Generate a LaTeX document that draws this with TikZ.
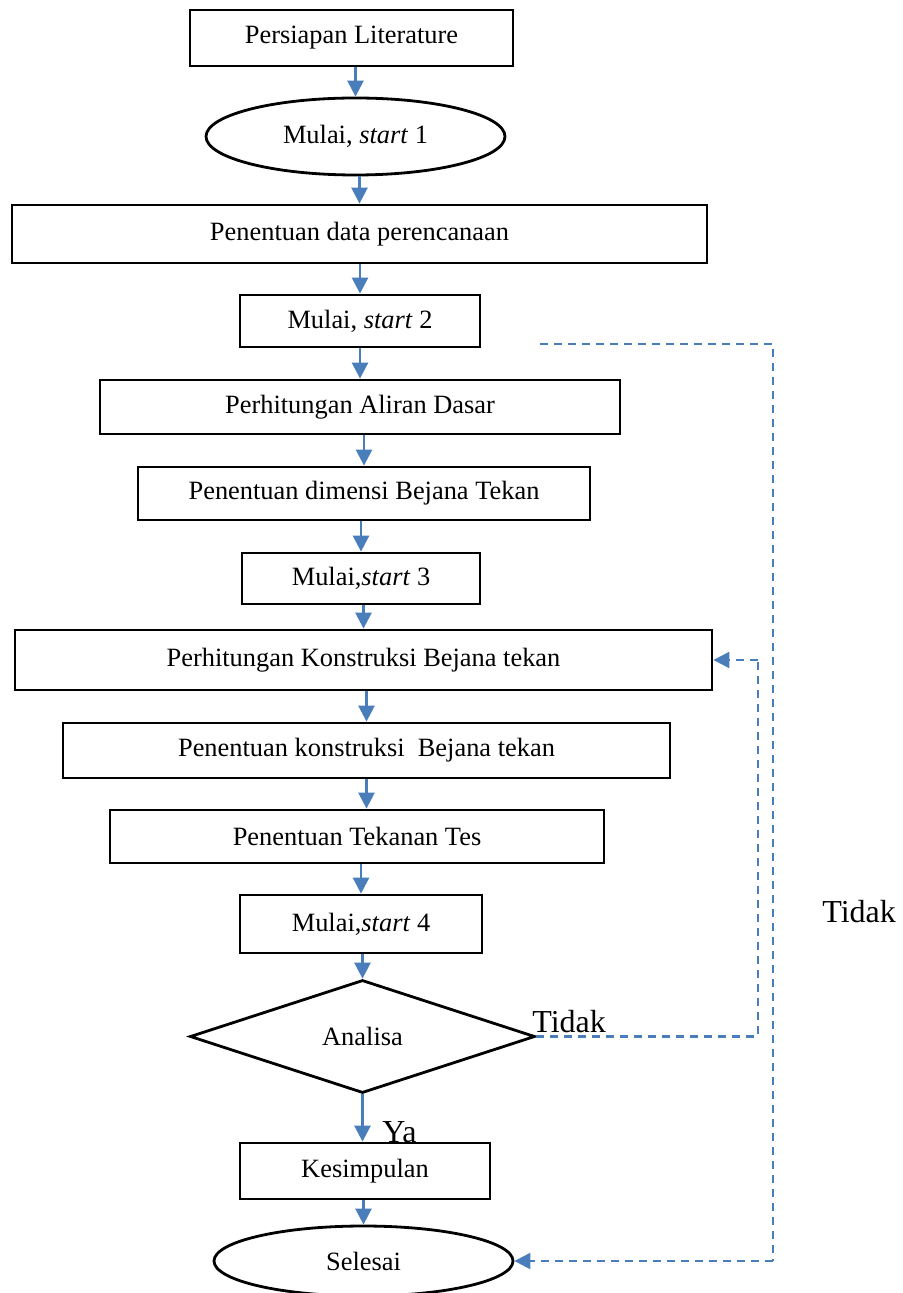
\documentclass[tikz,border=0pt]{standalone}
\usepackage{fontspec}
\setmainfont{Liberation Serif}
\usepackage{xcolor}
\usepackage{tikz}
\usetikzlibrary{shapes.geometric,arrows.meta}
\definecolor{flowblue}{HTML}{4A7EBB}

\begin{document}
\begin{tikzpicture}[
  x=0.5pt, y=-0.5pt,
  every node/.style={font=\fontsize{13.2}{15}\selectfont, inner sep=0pt},
  squarednode/.style={rectangle, draw=black, fill=white, line width=1.4pt},
  roundnode/.style={ellipse, draw=black, fill=white, line width=1.4pt},
  decisionnode/.style={diamond, aspect=3, draw=black, fill=white, line width=1.4pt},
  flowarrow/.style={draw=flowblue, line width=1.3pt, -{Triangle[length=8pt,width=8pt]}},  % solid blue arrows
  backline/.style={draw=flowblue, line width=1.2pt, dash pattern=on 4pt off 3pt},       % dashed return lines
  sidelabel/.style={font=\fontsize{16}{18}\selectfont, anchor=base west}
]
  \useasboundingbox (0,0) rectangle (902,1293);

  \node[squarednode, minimum width=161.5pt, minimum height=28pt] (lit) at (351.5,38) {Persiapan Literature};
  \node[roundnode, minimum width=149.5pt, minimum height=38.5pt] (start1) at (355.5,136.5) {Mulai, \textit{start} 1};
  \node[squarednode, minimum width=347.5pt, minimum height=29pt] (plan) at (359.5,234) {Penentuan data perencanaan};
  \node[squarednode, minimum width=120pt, minimum height=26pt] (start2) at (360,321) {Mulai, \textit{start} 2};
  \node[squarednode, minimum width=260pt, minimum height=27pt] (aliran) at (360,407) {Perhitungan Aliran Dasar};
  \node[squarednode, minimum width=226pt, minimum height=26.5pt] (dimensi) at (364,493.5) {Penentuan dimensi Bejana Tekan};
  \node[squarednode, minimum width=119pt, minimum height=25.5pt] (start3) at (361,578.5) {Mulai,\textit{start} 3};
  \node[squarednode, minimum width=348.5pt, minimum height=30pt] (hitkonst) at (363.5,660) {Perhitungan Konstruksi Bejana tekan};
  \node[squarednode, minimum width=303.5pt, minimum height=27.5pt] (tentkonst) at (366.5,750.5) {Penentuan konstruksi \ Bejana tekan};
  \node[squarednode, minimum width=247pt, minimum height=26.5pt] (tes) at (357,836.5) {Penentuan Tekanan Tes};
  \node[squarednode, minimum width=121pt, minimum height=29pt] (start4) at (361,924) {Mulai,\textit{start} 4};
  \node[decisionnode, minimum width=172.5pt, minimum height=56.5pt] (analisa) at (362.5,1036.5) {Analisa};
  \node[squarednode, minimum width=125pt, minimum height=28pt] (kesimpulan) at (365,1171) {Kesimpulan};
  \node[roundnode, minimum width=149.5pt, minimum height=35pt] (selesai) at (363.5,1261) {Selesai};

  \draw[flowarrow] (lit.south -| start1) -- (start1.north);
  \draw[flowarrow] (start1.south -| plan) -- (plan.north);
  \draw[flowarrow] (plan.south -| start2) -- (start2.north);
  \draw[flowarrow] (start2.south -| aliran) -- (aliran.north);
  \draw[flowarrow] (aliran.south -| dimensi) -- (dimensi.north);
  \draw[flowarrow] (dimensi.south -| start3) -- (start3.north);
  \draw[flowarrow] (start3.south -| hitkonst) -- (hitkonst.north);
  \draw[flowarrow] (hitkonst.south -| tentkonst) -- (tentkonst.north);
  \draw[flowarrow] (tentkonst.south) -- (tentkonst.south |- tes.north);
  \draw[flowarrow] (tes.south -| start4) -- (start4.north);
  \draw[flowarrow] (start4.south -| analisa) -- (analisa.north);
  \draw[flowarrow] (analisa.south) -- (analisa.south |- kesimpulan.north);
  \draw[flowarrow] (kesimpulan.south -| selesai) -- (selesai.north);

  % dashed return lines on the right
  \coordinate (loopin) at (758,0);
  \coordinate (loopout) at (773,0);
  \coordinate (outstart) at (540,344);
  \draw[backline] (analisa.east) -- (analisa.east -| loopin) -- (hitkonst.east -| loopin);
  \draw[backline, -{Triangle[length=8pt,width=8pt]}] (hitkonst.east -| loopin) -- (hitkonst.east);
  \draw[backline] (outstart) -- (outstart -| loopout) -- (selesai.east -| loopout);
  \draw[backline, -{Triangle[length=8pt,width=8pt]}] (selesai.east -| loopout) -- (selesai.east);

  \node[sidelabel] (tidak1) at (532,1032) {Tidak};
  \node[sidelabel] (tidak2) at (822,922) {Tidak};
  \node[sidelabel] (ya) at (382,1142) {Ya};
\end{tikzpicture}
\end{document}
